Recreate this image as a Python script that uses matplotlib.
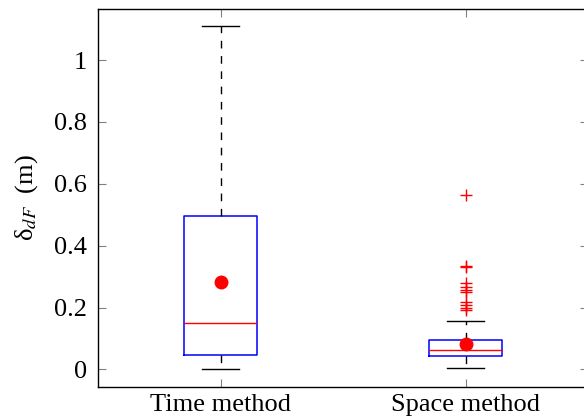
import matplotlib
matplotlib.use("Agg")
import matplotlib.pyplot as plt

plt.rcParams['font.family'] = ['Liberation Serif', 'DejaVu Serif']
plt.rcParams['mathtext.fontset'] = 'stix'

# box statistics
labels = ["Time method", "Space method"]
medians = [0.150, 0.064]
q1s = [0.046, 0.043]
q3s = [0.497, 0.095]
whis_lo = [0.0, 0.004]
whis_hi = [1.111, 0.155]
means = [0.281, 0.082]
space_fliers = [0.565, 0.335, 0.331, 0.279, 0.265, 0.258, 0.250,
                0.217, 0.209, 0.198, 0.191]
fliers = [[], space_fliers]

stats = []
for i in range(len(labels)):
    stats.append(dict(label=labels[i], med=medians[i], q1=q1s[i], q3=q3s[i],
                      whislo=whis_lo[i], whishi=whis_hi[i], mean=means[i],
                      fliers=fliers[i]))

fig = plt.figure(figsize=(5.84, 4.19), dpi=100)
ax = fig.add_axes([98 / 584, 32 / 419, (588 - 98) / 584, (410 - 32) / 419])

ax.bxp(stats, positions=[1, 2], widths=0.30, showmeans=True,
       boxprops=dict(color='blue', linewidth=1.1),
       medianprops=dict(color='red', linewidth=1.0),
       whiskerprops=dict(color='black', linewidth=1.0, linestyle=(0, (5.5, 5.5))),
       capprops=dict(color='black', linewidth=1.0),
       capwidths=0.15,
       meanprops=dict(marker='o', markerfacecolor='red', markeredgecolor='red',
                      markersize=9),
       flierprops=dict(marker='+', markeredgecolor='red', markersize=9,
                       markeredgewidth=1.0))

ax.set_xlim(0.5, 2.5)
ax.set_ylim(-0.057, 1.165)
ax.set_yticks([0, 0.2, 0.4, 0.6, 0.8, 1.0])
ax.set_yticklabels(['0', '0.2', '0.4', '0.6', '0.8', '1'])
ax.tick_params(axis='both', direction='in', length=6, color='gray',
               labelsize=19, top=True, right=True)
ax.tick_params(axis='x', pad=5)
ax.tick_params(axis='y', pad=8)
ax.set_ylabel('δ$_{dF}$  (m)', fontsize=19, labelpad=10)

for s in ax.spines.values():
    s.set_linewidth(1.0)

fig.savefig("out.png", dpi=100)
